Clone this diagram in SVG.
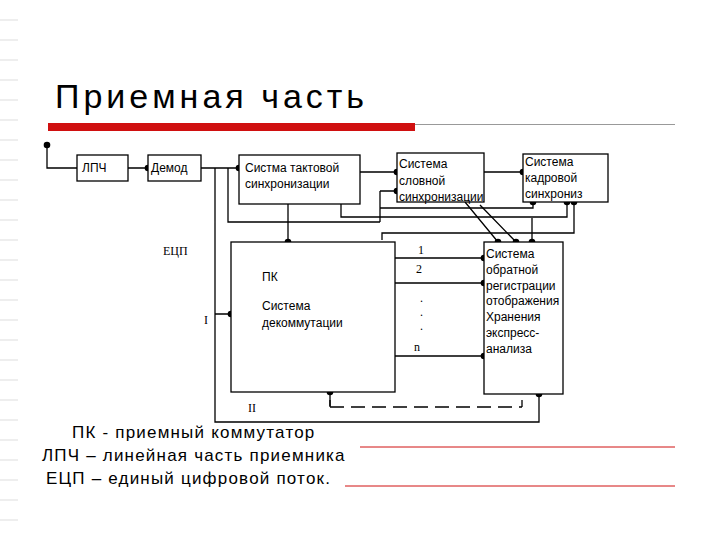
<svg xmlns="http://www.w3.org/2000/svg" width="720" height="540" viewBox="0 0 720 540">
<style>
.b{fill:#fff;stroke:#000;stroke-width:1.3}
.l{fill:none;stroke:#000;stroke-width:1.3}
.t{font-family:"Liberation Sans",Arial,sans-serif;font-size:12px;fill:#000}
.s{font-family:"Liberation Serif","Times New Roman",serif;font-size:12px;fill:#000}
.f{font-family:"Liberation Sans",Arial,sans-serif;font-size:17px;letter-spacing:1.2px;fill:#000}
</style>
<defs><g id="d"><circle r="3.3" fill="#000"/></g></defs>
<rect width="720" height="540" fill="#fff"/>
<g stroke="#ddd" stroke-width="1"><path d="M0 20H18M0 40H18M0 60H18M0 80H18M0 100H18M0 120H18M0 140H18M0 160H18M0 180H18M0 200H18M0 220H18M0 240H18M0 260H18M0 280H18M0 300H18M0 320H18M0 340H18M0 360H18M0 380H18M0 400H18M0 420H18M0 440H18M0 460H18M0 480H18M0 500H18M0 520H18"/></g>
<text x="55" y="108" font-family="Liberation Sans,Arial,sans-serif" font-size="34" fill="#000" letter-spacing="4">Приемная часть</text>
<rect x="48" y="123" width="367" height="8" fill="#d01010"/>
<line x1="415" y1="124.5" x2="675" y2="124.5" stroke="#999" stroke-width="1"/>
<line x1="360" y1="447" x2="675" y2="447" stroke="#d01010" stroke-width="1"/>
<line x1="345" y1="486" x2="675" y2="486" stroke="#d01010" stroke-width="1"/>
<g id="connectors">
<path class="l" d="M47 145V168H77M128 168H148M201 168H239M215 168V422H539V394M228 168V222H380M380 191V222M380 208H533V202M397 191H380M360 172H397M484 172H523M341 204V217H567V202M288 204V242M574 202V233H382V240"/>
<path class="l" stroke-width="0.8" d="M465 202L498 242M480 205L516 242M532 218V242"/>
<path class="l" d="M215 314H231M395 258H484M395 283H484M395 356H484"/>
<path class="l" d="M330 392V407M330 407H522M522 407V400" stroke-dasharray="14 7"/>
<path class="l" d="M330 400V407"/>
<use href="#d" x="47" y="145"/><use href="#d" x="148" y="168"/><use href="#d" x="239" y="168"/>
<use href="#d" x="397" y="172"/><use href="#d" x="397" y="191"/><use href="#d" x="523" y="172"/>
<use href="#d" x="533" y="202"/><use href="#d" x="567" y="202"/><use href="#d" x="574" y="202"/>
<use href="#d" x="288" y="242"/><use href="#d" x="498" y="242"/><use href="#d" x="516" y="242"/><use href="#d" x="532" y="242"/>
<use href="#d" x="484" y="258"/><use href="#d" x="484" y="283"/><use href="#d" x="484" y="356"/>
<use href="#d" x="231" y="314"/><use href="#d" x="330" y="392"/><use href="#d" x="539" y="394"/>
</g>
<g id="lpch"><rect class="b" x="77" y="155" width="51" height="26"/><text class="t" x="82" y="172">ЛПЧ</text></g>
<g id="demod"><rect class="b" x="148" y="155" width="53" height="26"/><text class="t" x="151" y="172">Демод</text></g>
<g id="takt"><rect class="b" x="239" y="155" width="121" height="49"/><text class="t" x="245" y="172">Систма тактовой</text><text class="t" x="245" y="188">синхронизации</text></g>
<g id="slov"><rect class="b" x="397" y="153" width="87" height="49"/><text class="t" x="399" y="168">Система</text><text class="t" x="399" y="185">словной</text><text class="t" x="399" y="201">синхронизации</text></g>
<g id="kadr"><rect class="b" x="523" y="154" width="85" height="48"/><text class="t" x="525" y="166">Система</text><text class="t" x="525" y="182">кадровой</text><text class="t" x="525" y="198">синхрониз</text></g>
<g id="pk"><rect class="b" x="231" y="242" width="164" height="150"/><text class="t" x="262" y="281">ПК</text><text class="t" x="262" y="310">Система</text><text class="t" x="262" y="327">декоммутации</text></g>
<g id="obr"><rect class="b" x="484" y="242" width="79" height="152"/><text class="t" x="486" y="258">Система</text><text class="t" x="486" y="274">обратной</text><text class="t" x="486" y="290">регистрации</text><text class="t" x="486" y="305">отображения</text><text class="t" x="486" y="321">Хранения</text><text class="t" x="486" y="337">экспресс-</text><text class="t" x="486" y="353">анализа</text></g>
<g id="labels">
<text class="s" x="163" y="255">ЕЦП</text><text class="s" x="204" y="324">I</text><text class="s" x="248" y="412">II</text>
<text class="s" x="418" y="254">1</text><text class="s" x="416" y="273">2</text>
<text class="s" x="420" y="302">.</text><text class="s" x="420" y="316">.</text><text class="s" x="420" y="330">.</text>
<text class="s" x="414" y="351">n</text>
<text class="f" x="72" y="438">ПК - приемный коммутатор</text>
<text class="f" x="42" y="461">ЛПЧ – линейная часть приемника</text>
<text class="f" x="46" y="484">ЕЦП – единый цифровой поток.</text>
</g>
</svg>
